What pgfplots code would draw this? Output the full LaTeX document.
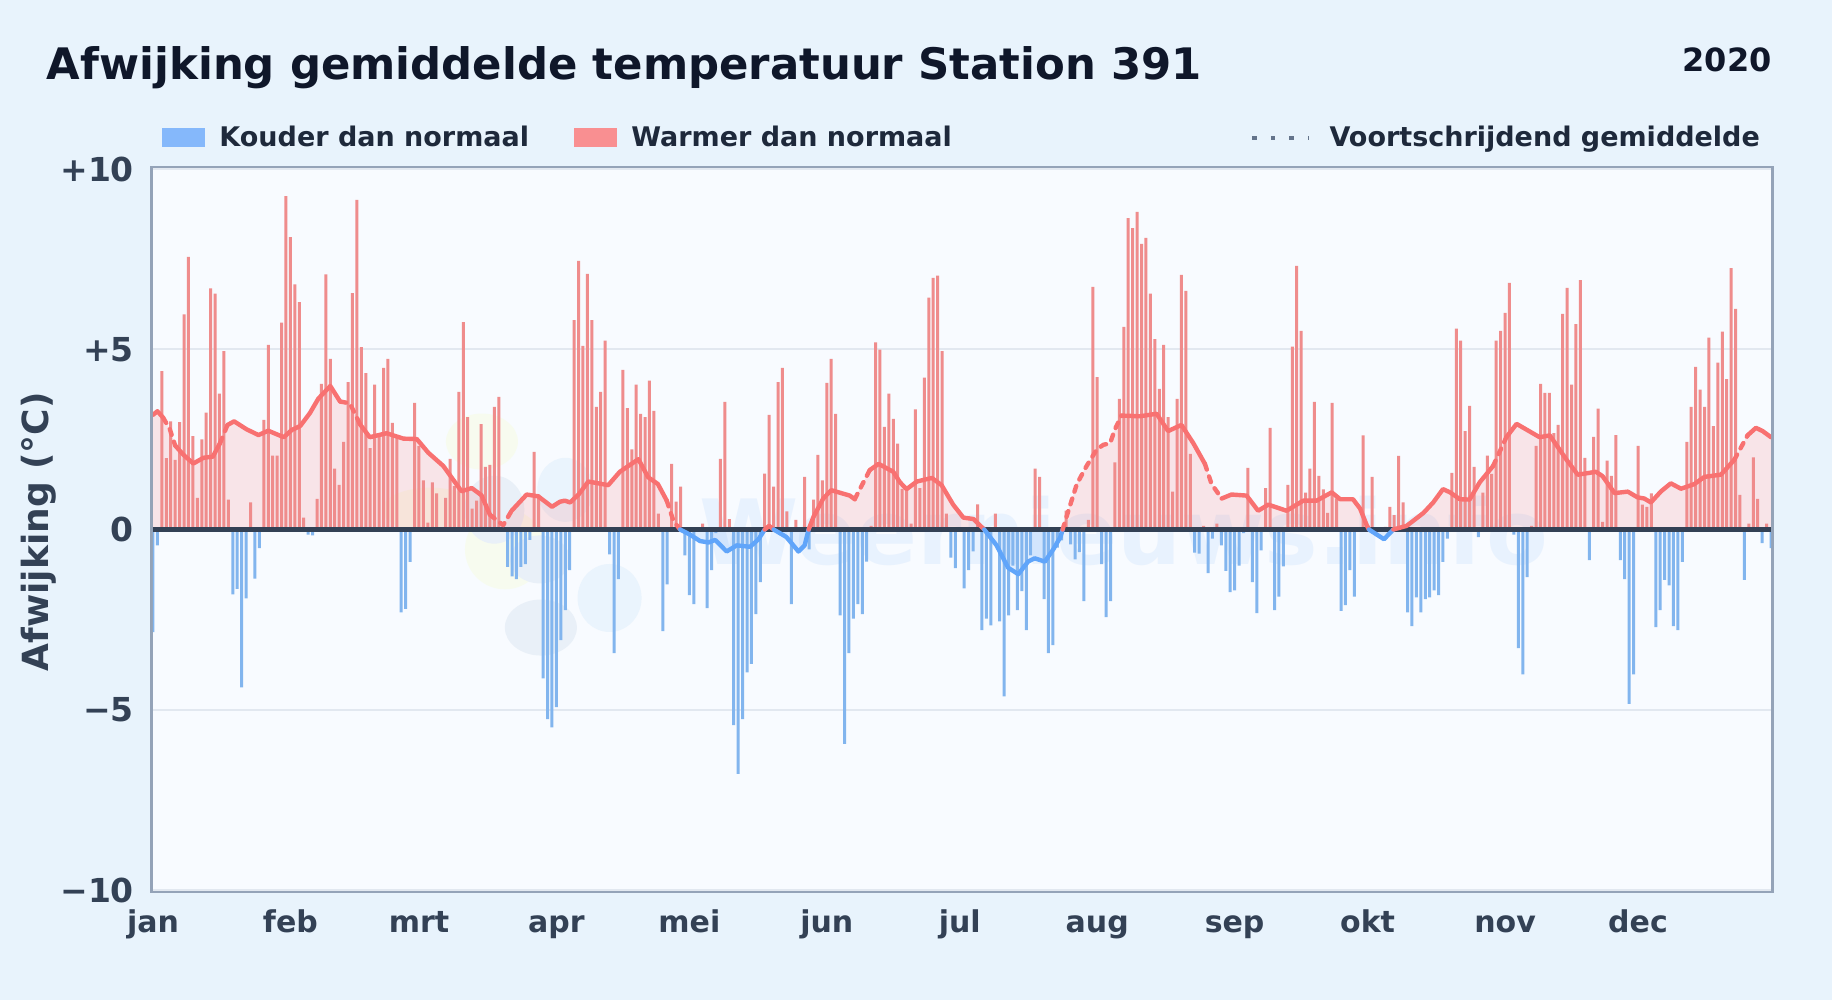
\documentclass[border=0pt]{standalone}
\usepackage{fontspec}
\setmainfont{DejaVu Sans}
\usepackage{pgfplots}
\usepackage{pgfplotstable}
\pgfplotsset{compat=1.18}

\definecolor{pagebg}{HTML}{E8F3FC}
\definecolor{plotbg}{HTML}{F8FBFF}
\definecolor{framecol}{HTML}{94A3B8}
\definecolor{gridcol}{HTML}{E2E8F0}
\definecolor{zerocol}{HTML}{334155}
\definecolor{titlecol}{HTML}{0F172A}
\definecolor{labelcol}{HTML}{334155}
\definecolor{legendcol}{HTML}{1E293B}
\definecolor{warmline}{HTML}{F87171}
\definecolor{coldline}{HTML}{60A5FA}
\definecolor{warmbar}{HTML}{EF8C8C}
\definecolor{coldbar}{HTML}{82B5EE}
\definecolor{warmkey}{HTML}{F98F91}
\definecolor{coldkey}{HTML}{85B8FB}
\definecolor{dotcol}{HTML}{64748B}
\definecolor{logogreen}{HTML}{F7FBEF}
\definecolor{logogrey}{HTML}{E9F0F8}
\definecolor{logoblue}{HTML}{EAF4FD}

% moving average, day of year (0 = 1 jan)
\pgfplotstableread{
day avg
0 3.18
1 3.28
2.3 3.1
3.8 2.78
5 2.33
6.8 2.08
9.1 1.83
11.4 1.99
13.5 2.02
15.1 2.39
16.8 2.9
18.3 3.0
21.1 2.78
23.8 2.62
26 2.74
29.5 2.56
31.3 2.76
33.2 2.87
35.4 3.23
37.3 3.63
40 3.98
42.2 3.55
44.4 3.5
46.7 2.92
48.9 2.56
52.7 2.67
56.5 2.52
59.5 2.51
62.1 2.13
65.5 1.76
69.6 1.06
71.9 1.15
74.1 0.95
76 0.41
79 0.12
80.9 0.52
84.3 0.97
86.9 0.92
90 0.63
91.8 0.77
92.9 0.8
94.1 0.75
96 0.97
98.2 1.33
102.7 1.23
105.3 1.6
109.5 1.95
111.7 1.45
113.9 1.26
115.9 0.8
117.4 0.24
118.9 0
121.1 -0.14
123.4 -0.32
125.3 -0.36
126.8 -0.29
129.4 -0.61
131.7 -0.44
134.7 -0.48
136.6 -0.27
138 0
139 0.1
140 0
140.7 -0.05
142.9 -0.21
145.6 -0.61
147 -0.44
147.9 0
149 0.35
151.2 0.86
153 1.09
157.2 0.94
158.3 0.84
159.8 1.2
161.7 1.65
163.7 1.82
167 1.6
168.5 1.31
170 1.12
172.3 1.33
175.7 1.43
177.9 1.23
180.5 0.69
182.8 0.33
185.1 0.29
187.5 0
190.3 -0.44
192.9 -1.06
195.2 -1.24
197.4 -0.89
198.9 -0.8
201.2 -0.89
203.1 -0.55
204.7 -0.21
205.2 0
206.5 0.52
208.4 1.26
210.6 1.76
212.9 2.22
214.4 2.35
215.9 2.39
217 2.78
218.5 3.16
222.6 3.14
226.4 3.21
229 2.73
232 2.9
234.7 2.39
237.3 1.82
238.8 1.26
241.1 0.86
243.3 0.97
246.7 0.94
249.3 0.52
251.6 0.69
255.7 0.52
259.5 0.8
262.5 0.8
265.9 1.03
267.8 0.84
270.7 0.84
272.3 0.58
273.8 0.12
274.3 0
277.7 -0.27
279.8 0
282.8 0.1
286.6 0.46
288.8 0.75
291 1.12
292.6 1.03
294.8 0.84
297 0.83
299.3 1.31
302.3 1.76
305.3 2.56
307.6 2.93
312.8 2.56
315.1 2.61
318.9 1.93
321.4 1.52
325.5 1.6
327 1.48
329.7 1.01
332.7 1.05
334.9 0.89
336.4 0.86
337.9 0.75
340.2 1.06
342.4 1.28
344.7 1.13
347.7 1.26
350 1.46
353.7 1.52
356.7 1.93
359.7 2.61
361.6 2.82
363.1 2.73
365 2.56
}\avgtable

\pgfplotstableread{
day val
2 4.39
3 1.98
4 3.0
5 1.93
6 2.98
7 5.97
8 7.56
9 2.59
10 0.88
11 2.5
12 3.24
13 6.69
14 6.54
15 3.77
16 4.95
17 0.83
22 0.75
25 3.04
26 5.12
27 2.05
28 2.05
29 5.74
30 9.25
31 8.11
32 6.8
33 6.31
34 0.33
37 0.85
38 4.04
39 7.08
40 4.73
41 1.69
42 1.24
43 2.43
44 4.09
45 6.56
46 9.14
47 5.06
48 4.34
49 2.26
50 4.02
51 2.56
52 4.48
53 4.73
54 2.96
55 2.56
59 3.51
60 2.32
61 1.36
62 0.19
63 1.31
64 1.0
66 0.88
67 1.96
68 1.2
69 3.82
70 5.75
71 3.12
72 0.58
73 0.8
74 2.92
75 1.74
76 1.79
77 3.4
78 3.68
86 2.15
87 0.97
95 5.81
96 7.45
97 5.09
98 7.09
99 5.81
100 3.4
101 3.82
102 5.24
106 4.43
107 3.37
108 2.22
109 4.02
110 3.21
111 3.12
112 4.13
113 3.29
114 0.44
117 1.82
118 0.77
119 1.19
124 0.16
128 1.96
129 3.54
130 0.29
138 1.55
139 3.18
140 1.19
141 4.09
142 4.48
143 0.5
145 0.27
147 1.46
149 0.83
150 2.07
151 1.36
152 4.07
153 4.73
154 3.21
162 0.1
163 5.19
164 4.99
165 2.85
166 3.77
167 3.07
168 2.38
169 1.13
170 1.1
171 0.16
172 3.33
173 1.15
174 4.21
175 6.43
176 6.98
177 7.04
178 4.95
179 0.44
186 0.7
190 0.44
199 1.69
200 1.46
206 0.52
211 0.27
212 6.73
213 4.23
217 1.86
218 3.62
219 5.62
220 8.64
221 8.36
222 8.81
223 7.92
224 8.09
225 6.54
226 5.28
227 3.9
228 5.12
229 3.12
230 1.05
231 3.62
232 7.06
233 6.62
234 2.1
237 0.1
240 0.16
247 1.71
251 1.15
252 2.82
256 1.24
257 5.07
258 7.31
259 5.51
260 1.02
261 1.69
262 3.54
263 1.49
264 1.11
265 0.46
266 3.51
267 0.86
273 2.61
275 1.46
278 0.07
279 0.63
280 0.4
281 2.04
282 0.75
293 1.57
294 5.57
295 5.24
296 2.73
297 3.43
298 1.74
300 1.02
301 2.05
302 1.54
303 5.24
304 5.51
305 6.01
306 6.84
311 0.1
312 2.32
313 4.04
314 3.79
315 3.79
316 2.67
317 2.9
318 5.98
319 6.7
320 4.02
321 5.7
322 6.92
323 1.99
325 2.57
326 3.35
327 0.21
328 1.91
329 1.49
330 2.62
335 2.32
336 0.69
337 0.63
338 1.0
346 2.43
347 3.4
348 4.51
349 3.88
350 3.4
351 5.32
352 2.87
353 4.63
354 5.49
355 4.17
356 7.25
357 6.12
358 0.96
360 0.16
361 2.0
362 0.85
364 0.16
}\warmtable

\pgfplotstableread{
day val
0 -2.85
1 -0.44
18 -1.8
19 -1.65
20 -4.38
21 -1.91
23 -1.36
24 -0.52
35 -0.14
36 -0.16
56 -2.3
57 -2.2
58 -0.9
80 -1.04
81 -1.3
82 -1.38
83 -1.04
84 -0.96
85 -0.29
88 -4.13
89 -5.26
90 -5.49
91 -4.93
92 -3.07
93 -2.24
94 -1.13
103 -0.69
104 -3.43
105 -1.38
115 -2.82
116 -1.52
120 -0.72
121 -1.82
122 -2.07
125 -2.18
126 -1.13
127 -0.1
131 -5.43
132 -6.78
133 -5.26
134 -3.96
135 -3.73
136 -2.35
137 -1.46
144 -2.07
148 -0.55
155 -2.38
156 -5.95
157 -3.43
158 -2.47
159 -2.07
160 -2.35
161 -0.89
180 -0.78
181 -1.07
183 -1.63
184 -1.13
185 -0.61
187 -2.79
188 -2.47
189 -2.66
191 -2.55
192 -4.63
193 -2.38
194 -1.0
195 -2.24
196 -1.71
197 -2.79
198 -0.72
201 -1.93
202 -3.43
203 -3.21
204 -0.5
205 -0.3
207 -0.41
208 -0.83
209 -0.63
210 -1.99
214 -0.96
215 -2.43
216 -1.99
235 -0.64
236 -0.67
238 -1.21
239 -0.25
241 -0.44
242 -1.15
243 -1.74
244 -1.69
245 -1.0
246 -0.1
248 -1.46
249 -2.32
250 -0.58
253 -2.24
254 -1.86
255 -1.02
268 -2.26
269 -2.1
270 -1.13
271 -1.86
283 -2.3
284 -2.68
285 -1.88
286 -2.3
287 -1.93
288 -1.88
289 -1.69
290 -1.82
291 -0.9
292 -0.25
299 -0.21
307 -0.14
308 -3.29
309 -4.02
310 -1.32
324 -0.85
331 -0.85
332 -1.38
333 -4.84
334 -4.02
339 -2.71
340 -2.24
341 -1.4
342 -1.55
343 -2.68
344 -2.79
345 -0.9
359 -1.4
363 -0.38
365 -0.52
}\coldtable

% area under part of the moving average, line on part of it
\newcommand{\avgarea}[3]{\addplot[draw=none, fill=#1, fill opacity=0.16, forget plot,
  restrict x to domain=#2:#3] table[x=day, y=avg] {\avgtable} \closedcycle;}
\newcommand{\avgline}[4]{\addplot[#1, #2, line width=2.2pt, line join=round, line cap=round, forget plot,
  restrict x to domain=#3:#4] table[x=day, y=avg] {\avgtable};}
\tikzset{dashpart/.style={dash pattern=on 3pt off 3.6pt}}

\begin{document}
\begin{tikzpicture}
  \fill[pagebg] (-76.5pt,-55pt) rectangle (839.5pt,445pt);
  \draw[framecol, line width=2.7pt] (0pt,0pt) rectangle (809pt,360.5pt);
  \begin{axis}[
    at={(0,0)}, anchor=south west,
    scale only axis,
    width=809pt, height=360.5pt,
    xmin=0, xmax=365, ymin=-10, ymax=10,
    axis background/.style={fill=plotbg},
    separate axis lines,
    axis line style={draw=none},
    xtick={0,31,60,91,121,152,182,213,244,274,305,335},
    xticklabels={jan,feb,mrt,apr,mei,jun,jul,aug,sep,okt,nov,dec},
    ytick={-10,-5,0,5,10},
    yticklabels={−10,−5,0,+5,+10},
    major tick length=0pt,
    ymajorgrids,
    grid style={gridcol, line width=0.9pt},
    xticklabel style={font=\fontsize{15}{15}\selectfont\bfseries, text=labelcol,
      text height=11.5pt, text depth=3.5pt, yshift=-6pt},
    yticklabel style={font=\fontsize{16.5}{16.5}\selectfont\bfseries, text=labelcol, xshift=-6pt},
    ylabel={Afwijking (°C)},
    every axis y label/.style={at={(axis description cs:-0.0705,0.497)}, rotate=90, anchor=center,
      font=\fontsize{18}{18}\selectfont\bfseries, text=labelcol},
    legend columns=3,
    legend style={
      at={(axis cs:2,10)}, anchor=south west, yshift=5.5pt, xshift=-3pt,
      draw=none, fill=none, text=legendcol,
      font=\fontsize{13.5}{13.5}\selectfont\bfseries,
      /tikz/column 1/.style={column sep=5pt},
      /tikz/column 2/.style={column sep=20.5pt},
      /tikz/column 3/.style={column sep=5pt},
      /tikz/column 4/.style={column sep=147pt},
      /tikz/column 5/.style={column sep=7.5pt},
    },
    legend cell align=left,
  ]
    % faint logo and name behind the data
    \fill[logogreen] (axis cs:74.2,2.44) ellipse [x radius=18pt, y radius=14pt];
    \fill[logogreen] (axis cs:62.5,0.55) ellipse [x radius=24pt, y radius=11pt];
    \fill[logogreen] (axis cs:79.4,-0.55) ellipse [x radius=20pt, y radius=20pt];
    \fill[logogrey] (axis cs:77,0.55) ellipse [x radius=15pt, y radius=17pt];
    \fill[logogrey] (axis cs:87.5,-2.72) ellipse [x radius=18pt, y radius=14pt];
    \fill[logogrey] (axis cs:87.3,-0.83) ellipse [x radius=15pt, y radius=12pt];
    \fill[logoblue] (axis cs:93,1.1) ellipse [x radius=14pt, y radius=16pt];
    \fill[logoblue] (axis cs:103,-1.9) ellipse [x radius=16pt, y radius=17pt];
    \node[opacity=0.10, text=coldline, inner sep=0pt, font=\fontsize{45}{45}\selectfont\bfseries, anchor=base]
      at (axis cs:219,0) [yshift=-17.5pt] {Weernieuws.info};

    \avgarea{warmline}{-0.01}{118.91}
    \avgarea{warmline}{137.99}{140.01}
    \avgarea{warmline}{147.89}{187.51}
    \avgarea{warmline}{205.19}{274.31}
    \avgarea{warmline}{279.79}{365.01}
    \avgarea{coldline}{118.89}{138.01}
    \avgarea{coldline}{139.99}{147.91}
    \avgarea{coldline}{187.49}{205.21}
    \avgarea{coldline}{274.29}{279.81}

    \addplot[ybar, bar width=1.5pt, bar shift=0pt, draw=none, fill=coldbar,
      legend image code/.code={\fill[coldkey] (0pt,-4.7pt) rectangle (21.6pt,4.7pt);}]
      table[x=day, y=val] {\coldtable};
    \addlegendentry{Kouder dan normaal}
    \addplot[ybar, bar width=1.5pt, bar shift=0pt, draw=none, fill=warmbar,
      legend image code/.code={\fill[warmkey] (0pt,-4.7pt) rectangle (21.6pt,4.7pt);}]
      table[x=day, y=val] {\warmtable};
    \addlegendentry{Warmer dan normaal}
    \addlegendimage{legend image code/.code={\draw[dotcol, line width=2.3pt, dash pattern=on 2.3pt off 7pt] (0pt,0pt) -- (28pt,0pt);}}
    \addlegendentry{Voortschrijdend gemiddelde}

    \addplot[zerocol, line width=2.1pt, forget plot] coordinates {(0,0) (365,0)};

    \avgline{warmline}{solid}{-0.01}{2.31}
    \avgline{warmline}{dashpart}{2.29}{5.01}
    \avgline{warmline}{solid}{4.99}{15.11}
    \avgline{warmline}{dashpart}{15.09}{16.81}
    \avgline{warmline}{solid}{16.79}{42.21}
    \avgline{warmline}{dashpart}{42.19}{46.71}
    \avgline{warmline}{solid}{46.69}{76.01}
    \avgline{warmline}{dashpart}{75.99}{80.91}
    \avgline{warmline}{solid}{80.89}{115.91}
    \avgline{warmline}{dashpart}{115.89}{118.91}
    \avgline{coldline}{solid}{118.89}{138.01}
    \avgline{warmline}{solid}{137.99}{140.01}
    \avgline{coldline}{solid}{139.99}{147.91}
    \avgline{warmline}{solid}{147.89}{158.31}
    \avgline{warmline}{dashpart}{158.29}{161.71}
    \avgline{warmline}{solid}{161.69}{187.51}
    \avgline{coldline}{solid}{187.49}{205.21}
    \avgline{warmline}{dashpart}{205.19}{218.51}
    \avgline{warmline}{solid}{218.49}{237.31}
    \avgline{warmline}{dashpart}{237.29}{241.11}
    \avgline{warmline}{solid}{241.09}{274.31}
    \avgline{coldline}{solid}{274.29}{279.81}
    \avgline{warmline}{solid}{279.79}{302.31}
    \avgline{warmline}{dashpart}{302.29}{305.31}
    \avgline{warmline}{solid}{305.29}{356.71}
    \avgline{warmline}{dashpart}{356.69}{359.71}
    \avgline{warmline}{solid}{359.69}{365.01}
  \end{axis}
  \node[anchor=base west, inner sep=0pt, text=titlecol, font=\fontsize{21.7}{21.7}\selectfont\bfseries] at (-53.2pt,405pt)
    {Afwijking gemiddelde temperatuur Station 391};
  \node[anchor=base east, inner sep=0pt, text=titlecol, font=\fontsize{16}{16}\selectfont\bfseries] at (809.5pt,409pt) {2020};
\end{tikzpicture}
\end{document}
